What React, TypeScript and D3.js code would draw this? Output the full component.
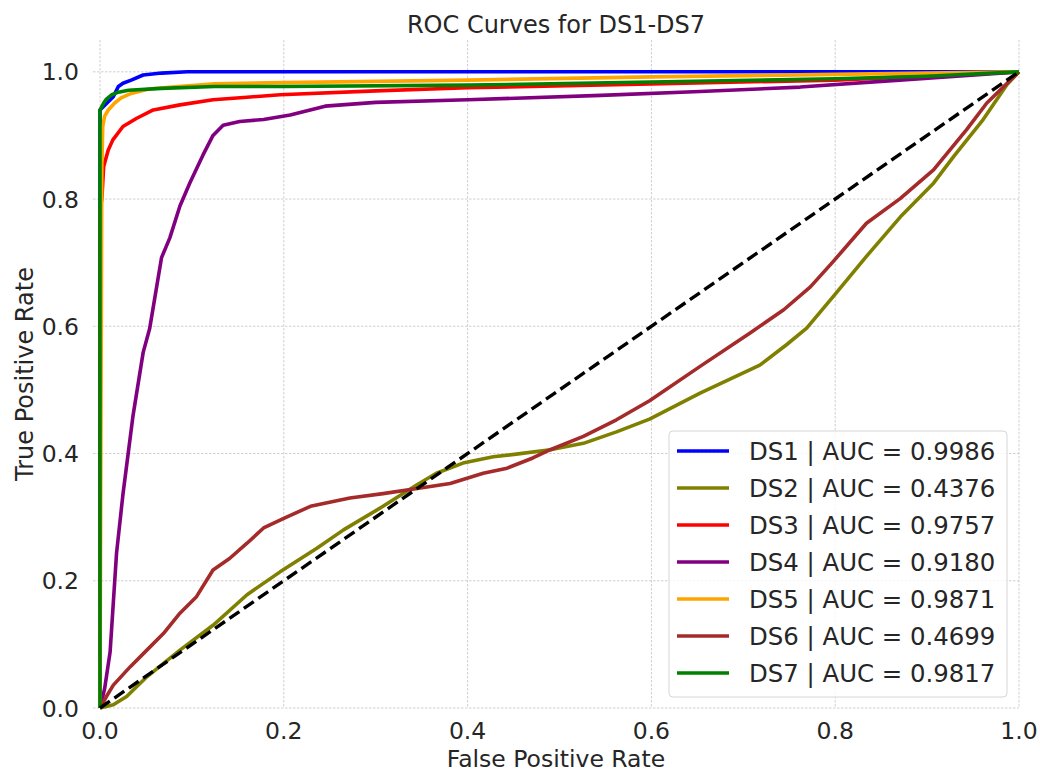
import React from "react";
import * as d3 from "d3";

// ROC curves, points: [fpr, tpr]
const ds1: [number, number][] = [
  [0, 0], [0, 0.94], [0.009, 0.953], [0.0145, 0.961], [0.02, 0.977], [0.025, 0.982],
  [0.034, 0.987], [0.047, 0.995], [0.067, 0.998], [0.095, 1.0], [1, 1],
];
const ds2: [number, number][] = [
  [0, 0], [0.0145, 0.005], [0.029, 0.018], [0.051, 0.049], [0.087, 0.091], [0.123, 0.13],
  [0.16, 0.178], [0.196, 0.214], [0.236, 0.251], [0.265, 0.28], [0.308, 0.317], [0.345, 0.351],
  [0.366, 0.369], [0.395, 0.385], [0.428, 0.395], [0.453, 0.399], [0.49, 0.406], [0.526, 0.416],
  [0.562, 0.434], [0.598, 0.454], [0.653, 0.495], [0.718, 0.539], [0.747, 0.571], [0.769, 0.597],
  [0.798, 0.647], [0.834, 0.71], [0.871, 0.772], [0.907, 0.825], [0.929, 0.867], [0.961, 0.925],
  [0.987, 0.98], [1, 1],
];
const ds3: [number, number][] = [
  [0, 0], [0, 0.78], [0.002, 0.8], [0.004, 0.851], [0.009, 0.877], [0.014, 0.893], [0.025, 0.914],
  [0.04, 0.927], [0.058, 0.94], [0.087, 0.948], [0.123, 0.956], [0.16, 0.96], [0.196, 0.964],
  [0.3, 0.97], [0.4, 0.975], [0.6, 0.981], [0.8, 0.987], [1, 1],
];
const ds4: [number, number][] = [
  [0, 0], [0.005, 0.03], [0.011, 0.088], [0.018, 0.243], [0.025, 0.336], [0.036, 0.46],
  [0.047, 0.559], [0.054, 0.596], [0.067, 0.708], [0.076, 0.739], [0.087, 0.789], [0.098, 0.826],
  [0.112, 0.869], [0.123, 0.9], [0.134, 0.916], [0.152, 0.922], [0.178, 0.925], [0.207, 0.932],
  [0.245, 0.946], [0.3, 0.952], [0.4, 0.956], [0.545, 0.963], [0.653, 0.969], [0.762, 0.976],
  [0.87, 0.987], [1, 1],
];
const ds5: [number, number][] = [
  [0, 0], [0.002, 0.85], [0.003, 0.914], [0.005, 0.93], [0.009, 0.94], [0.016, 0.951],
  [0.023, 0.959], [0.034, 0.966], [0.053, 0.973], [0.085, 0.977], [0.125, 0.981], [0.2, 0.983],
  [0.4, 0.987], [0.6, 0.992], [0.8, 0.996], [1, 1],
];
const ds6: [number, number][] = [
  [0, 0], [0.007, 0.018], [0.0145, 0.036], [0.033, 0.065], [0.051, 0.091], [0.069, 0.117],
  [0.087, 0.149], [0.105, 0.175], [0.123, 0.217], [0.141, 0.235], [0.16, 0.259], [0.178, 0.283],
  [0.2, 0.298], [0.229, 0.317], [0.272, 0.33], [0.308, 0.337], [0.345, 0.345], [0.381, 0.353],
  [0.417, 0.369], [0.443, 0.377], [0.471, 0.393], [0.49, 0.406], [0.526, 0.427], [0.562, 0.453],
  [0.598, 0.483], [0.653, 0.537], [0.707, 0.589], [0.744, 0.626], [0.773, 0.662], [0.798, 0.702],
  [0.834, 0.762], [0.871, 0.801], [0.907, 0.846], [0.943, 0.909], [0.965, 0.951], [1, 1],
];
const ds7: [number, number][] = [
  [0, 0], [0, 0.94], [0.004, 0.951], [0.007, 0.957], [0.013, 0.964], [0.02, 0.968],
  [0.031, 0.971], [0.067, 0.974], [0.125, 0.977], [0.2, 0.977], [0.4, 0.979], [0.6, 0.984],
  [0.8, 0.989], [0.9, 0.993], [1, 1],
];

const names = ["DS1", "DS2", "DS3", "DS4", "DS5", "DS6", "DS7"];
const aucs = ["0.9986", "0.4376", "0.9757", "0.9180", "0.9871", "0.4699", "0.9817"];
const colors = ["blue", "olive", "red", "purple", "orange", "brown", "green"];
const ticks = [0, 0.2, 0.4, 0.6, 0.8, 1.0];

const W = 1040;
const H = 772;
const margin = { left: 93, right: 21, top: 40, bottom: 64 };
const textColor = "#262626";
const font = "'DejaVu Sans', sans-serif";

export default function App() {
  const series = [ds1, ds2, ds3, ds4, ds5, ds6, ds7];

  const x = d3.scaleLinear().domain([-0.0076, 1]).range([margin.left, W - margin.right]);
  const y = d3.scaleLinear().domain([0, 1.05]).range([H - margin.bottom, margin.top]);

  const line = d3.line<[number, number]>()
    .x(d => x(d[0]))
    .y(d => y(d[1]));

  const legendX = 669;
  const legendY = 431;
  const rowH = 37;
  const tickSize = 23.5;

  return (
    <svg width={W} height={H} style={{ position: "absolute", left: 0, top: 0, background: "white" }}
      fontFamily={font}>
      {/* grid */}
      <g stroke="#c4c4c4" strokeWidth={0.8} strokeDasharray="2.5,1.5">
        {ticks.map(t => (
          <line key={"gx" + t} x1={x(t)} x2={x(t)} y1={y.range()[1]} y2={y.range()[0]} />
        ))}
        {ticks.map(t => (
          <line key={"gy" + t} x1={x.range()[0]} x2={x.range()[1]} y1={y(t)} y2={y(t)} />
        ))}
      </g>

      {/* curves */}
      <g fill="none" strokeWidth={3.6} strokeLinejoin="round" strokeLinecap="butt">
        {series.map((s, i) => (
          <path key={names[i]} d={line(s) || ""} stroke={colors[i]} />
        ))}
        <path d={line([[0, 0], [1, 1]]) || ""} stroke="black" strokeWidth={3.4} strokeDasharray="12,5.5" />
      </g>

      {/* tick labels */}
      <g fill={textColor} fontSize={tickSize}>
        {ticks.map(t => (
          <text key={"tx" + t} x={x(t)} y={738.5} textAnchor="middle">{t.toFixed(1)}</text>
        ))}
        {ticks.map(t => (
          <text key={"ty" + t} x={79} y={y(t) + tickSize * 0.364} textAnchor="end">{t.toFixed(1)}</text>
        ))}
      </g>

      {/* axis labels and title */}
      <g fill={textColor} fontSize={24}>
        <text x={(x.range()[0] + x.range()[1]) / 2} y={33} textAnchor="middle">ROC Curves for DS1-DS7</text>
        <text x={(x.range()[0] + x.range()[1]) / 2} y={766.5} textAnchor="middle" fontSize={23.5}>
          False Positive Rate
        </text>
        <text transform={`translate(33, ${(y.range()[0] + y.range()[1]) / 2}) rotate(-90)`} textAnchor="middle">
          True Positive Rate
        </text>
      </g>

      {/* legend */}
      <g>
        <rect x={legendX} y={legendY} width={338} height={266} rx={4} fill="white" fillOpacity={0.8}
          stroke="#d6d6d6" strokeWidth={1} />
        {names.map((n, i) => {
          const cy = legendY + 20 + i * rowH;
          return (
            <g key={"lg" + n}>
              <line x1={legendX + 8} x2={legendX + 60} y1={cy} y2={cy} stroke={colors[i]} strokeWidth={3.6} />
              <text x={legendX + 80} y={cy + 8.8} fill={textColor} fontSize={24.4}>
                {`${n} | AUC = ${aucs[i]}`}
              </text>
            </g>
          );
        })}
      </g>
    </svg>
  );
}
